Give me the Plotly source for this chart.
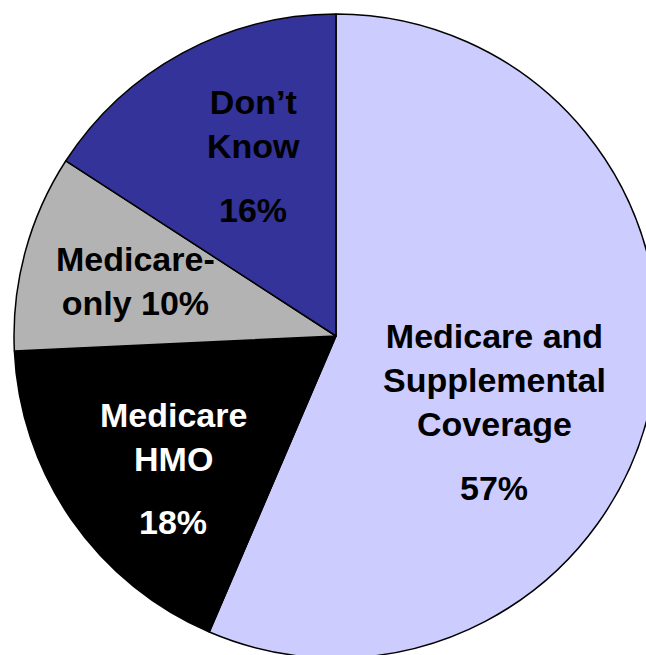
import plotly.graph_objects as go

labels = ["Medicare and Supplemental Coverage", "Medicare HMO", "Medicare-only", "Don’t Know"]
values = [57, 18, 10, 16]
colors = ["#CCCCFF", "#000000", "#B3B3B3", "#333399"]

W, H = 680, 680
cx, cy, r = 336, 336, 322

fig = go.Figure(go.Pie(
    labels=labels, values=values, sort=False, direction="clockwise", rotation=0,
    marker=dict(colors=colors, line=dict(color="#000000", width=1.5)),
    textinfo="none", hoverinfo="label+percent", showlegend=False,
    domain=dict(x=[(cx - r) / W, (cx + r) / W], y=[1 - (cy + r) / H, 1 - (cy - r) / H]),
))

FONT = "Liberation Sans, Arial, sans-serif"
label_text = [
    ("Medicare and<br>Supplemental<br>Coverage", 494, 380, "black"),
    ("57%", 494, 488, "black"),
    ("Medicare<br>HMO", 173, 437, "white"),
    ("18%", 173, 522, "white"),
    ("Medicare-<br>only 10%", 135, 281, "black"),
    ("Don’t<br>Know", 253, 124, "black"),
    ("16%", 253, 210, "black"),
]
for t, x, y, c in label_text:
    fig.add_annotation(text="<b>" + t + "</b>", x=x / W, y=1 - y / H, xref="paper", yref="paper",
                       showarrow=False, xanchor="center", yanchor="middle", align="center",
                       font=dict(family=FONT, size=34, color=c))

fig.update_layout(width=W, height=H, margin=dict(l=0, r=0, t=0, b=0),
                  paper_bgcolor="white", plot_bgcolor="white")

fig.write_html("out.html", config={"displayModeBar": False},
               post_script="document.body.style.margin='0';document.body.style.overflow='hidden';document.documentElement.style.overflow='hidden';")
